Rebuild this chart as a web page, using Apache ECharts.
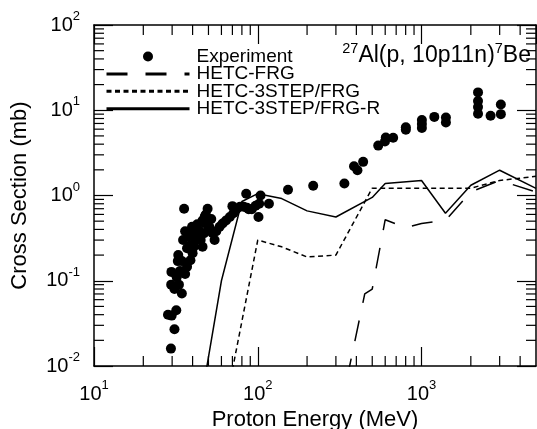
<!DOCTYPE html>
<html><head><meta charset="utf-8">
<script src="https://cdn.jsdelivr.net/npm/echarts@6/dist/echarts.min.js"></script>
<style>html,body{margin:0;padding:0;background:#fff}#c{width:537px;height:429px}</style>
</head><body><div id="c"></div>
<script>
// Experiment: [proton energy (MeV), cross section (mb)]
const experiment = [
  [28.3,0.040],[29.8,0.039],[31.8,0.045],[31.0,0.027],[29.5,0.016],
  [29.6,0.090],[29.7,0.127],[31.0,0.080],[32.0,0.110],[33.5,0.130],[34.4,0.071],[33.0,0.090],
  [32.7,0.200],[32.5,0.170],[34.4,0.170],[36.0,0.120],[37.0,0.146],[38.8,0.174],[40.0,0.210],
  [35.0,0.300],[36.0,0.380],[35.5,0.700],[37.8,0.330],[39.7,0.360],[40.7,0.250],[42.7,0.460],
  [43.8,0.390],[44.8,0.300],[46.0,0.250],[47.0,0.360],[48.2,0.600],[49.4,0.700],[48.0,0.470],
  [50.6,0.430],[52.0,0.530],[53.0,0.360],[55.8,0.380],[54.5,0.300],[39.7,0.430],[46.0,0.510],
  [47.5,0.570],[37.0,0.240],[38.8,0.260],[41.5,0.300],[43.0,0.330],[45.0,0.350],[50.0,0.400],
  [58.5,0.430],[61.0,0.470],[64.0,0.510],[67.5,0.560],[71.0,0.620],[70.0,0.750],[78.0,0.740],
  [74.0,0.690],[85.0,1.050],[86.0,0.720],[92.0,0.690],[97.0,0.760],[101.0,0.560],[104.0,1.000],
  [102.0,0.800],[117.0,0.800],[82.0,0.740],[88.0,0.690],
  [153,1.17],[218,1.30],[338,1.38],[387,2.20],[406,1.98],[440,2.48],[544,3.85],
  [598,4.30],[605,4.80],[671,4.75],[802,5.90],[802,6.30],[1005,6.20],[1005,6.90],[1005,7.70],
  [1197,8.36],[1409,7.20],[1409,8.20],[2213,9.10],[2213,10.9],[2213,12.8],[2213,16.2],
  [2640,8.60],[3050,9.00],[3050,11.7]
];
// HETC-FRG
const frgE = [350,450,500,600,800,1000,1400,2000,3000,5000];
const frgS = [0.007,0.07,0.08,0.52,0.42,0.47,0.51,1.10,1.50,1.10];
// HETC-3STEP/FRG
const stepE = [70,100,140,200,300,500,600,1000,1400,2000,3000,5000];
const stepS = [0.009,0.30,0.25,0.19,0.20,1.22,1.22,1.22,1.22,1.22,1.50,1.68];
// HETC-3STEP/FRG-R
const stepRE = [48,60,80,100,140,200,300,500,600,1000,1400,2000,3000,5000];
const stepRS = [0.008,0.10,0.85,1.05,0.92,0.66,0.56,0.95,1.38,1.50,0.62,1.32,1.98,1.21];
// minor tick positions
const minorX = [20,30,40,50,60,70,80,90,200,300,400,500,600,700,800,900,2000,3000,4000];
const minorY = [0.02,0.03,0.04,0.05,0.06,0.07,0.08,0.09,0.2,0.3,0.4,0.5,0.6,0.7,0.8,0.9,2,3,4,5,6,7,8,9,20,30,40,50,60,70,80,90];

const F = 'Liberation Sans';
const pair = (xs, ys) => xs.map((x, i) => [x, ys[i]]);
function powLabel(v) {
  const e = Math.round(Math.log10(v));
  if (Math.abs(v / Math.pow(10, e) - 1) > 1e-6) return '';
  return '{b|10}{s|' + e + '}';
}
const labelRich = {
  b: {fontSize: 20, fontFamily: F, color: '#000', lineHeight: 30},
  s: {fontSize: 13, fontFamily: F, color: '#000', lineHeight: 10, verticalAlign: 'top'}
};
const axisCommon = {
  type: 'log', logBase: 10,
  axisLine: {show: true, lineStyle: {color: '#000', width: 1.5}},
  axisTick: {show: true, inside: true, length: 19, lineStyle: {color: '#000', width: 1.2}},
  splitLine: {show: false}, minorTick: {show: false}
};
function minorTicks(vals, dir) {
  return {
    type: 'custom', silent: true, z: 5, clip: false,
    data: vals.map(v => dir === 'x' ? [v, 1] : [10, v]),
    renderItem(params, api) {
      const cs = params.coordSys;
      const p = api.coord([api.value(0), api.value(1)]);
      const L = 10;
      const segs = dir === 'x'
        ? [[p[0], cs.y + cs.height, p[0], cs.y + cs.height - L], [p[0], cs.y, p[0], cs.y + L]]
        : [[cs.x, p[1], cs.x + L, p[1]], [cs.x + cs.width, p[1], cs.x + cs.width - L, p[1]]];
      return {type: 'group', children: segs.map(s => ({
        type: 'line', shape: {x1: s[0], y1: s[1], x2: s[2], y2: s[3]},
        style: {stroke: '#000', lineWidth: 1.2}
      }))};
    }
  };
}
const chart = echarts.init(document.getElementById('c'));
chart.setOption({
  animation: false,
  backgroundColor: '#fff',
  title: {
    text: '{sup|27}{n|Al(p, 10p11n)}{sup|7}{n|Be}',
    right: 6, top: 41, padding: 0,
    textStyle: {fontWeight: 'normal', rich: {
      n: {fontSize: 23, fontFamily: F, fontWeight: 'normal', color: '#000', lineHeight: 30},
      sup: {fontSize: 14.5, fontFamily: F, fontWeight: 'normal', color: '#000', lineHeight: 10, verticalAlign: 'top'}
    }}
  },
  legend: {
    data: [
      {name: 'Experiment', itemStyle: {opacity: 1}},
      {name: 'HETC-FRG'}, {name: 'HETC-3STEP/FRG'}, {name: 'HETC-3STEP/FRG-R'}
    ],
    orient: 'vertical', left: 105, top: 47, padding: 0,
    itemWidth: 83, itemHeight: 10, itemGap: -1.6,
    selectedMode: false,
    itemStyle: {opacity: 0},
    lineStyle: {width: 3},
    textStyle: {fontSize: 19, fontFamily: F, color: '#000', lineHeight: 16, padding: [0, 0, 0, 2]}
  },
  grid: {left: 94, right: 1, top: 25, bottom: 63, outerBoundsMode: 'none', containLabel: false},
  xAxis: [
    Object.assign({}, axisCommon, {
      min: 10, max: 5000, position: 'bottom',
      axisLabel: {formatter: powLabel, rich: labelRich, margin: 13, showMaxLabel: false},
      name: 'Proton Energy (MeV)', nameLocation: 'middle', nameGap: 42,
      nameTextStyle: {fontSize: 22, fontFamily: F, color: '#000'}
    }),
    Object.assign({}, axisCommon, {min: 10, max: 5000, position: 'top', axisLabel: {show: false}})
  ],
  yAxis: [
    Object.assign({}, axisCommon, {
      min: 0.01, max: 100, position: 'left',
      axisLabel: {formatter: powLabel, rich: labelRich, margin: 14},
      name: 'Cross Section (mb)', nameLocation: 'middle', nameGap: 63, nameRotate: 90,
      nameTextStyle: {fontSize: 22, fontFamily: F, color: '#000'}
    }),
    Object.assign({}, axisCommon, {min: 0.01, max: 100, position: 'right', axisLabel: {show: false}})
  ],
  series: [
    {name: 'Experiment', type: 'scatter', data: experiment, symbol: 'circle', symbolSize: 10,
     itemStyle: {color: '#000', opacity: 1}, z: 3},
    {name: 'HETC-FRG', type: 'line', data: pair(frgE, frgS), symbol: 'none', clip: true,
     lineStyle: {color: '#000', width: 1.5, type: [21, 18]}, itemStyle: {color: '#000'}},
    {name: 'HETC-3STEP/FRG', type: 'line', data: pair(stepE, stepS), symbol: 'none', clip: true,
     lineStyle: {color: '#000', width: 1.5, type: [5, 3.5]}, itemStyle: {color: '#000'}},
    {name: 'HETC-3STEP/FRG-R', type: 'line', data: pair(stepRE, stepRS), symbol: 'none', clip: true,
     lineStyle: {color: '#000', width: 1.5, type: 'solid'}, itemStyle: {color: '#000'}},
    minorTicks(minorX, 'x'),
    minorTicks(minorY, 'y')
  ]
});
</script></body></html>
